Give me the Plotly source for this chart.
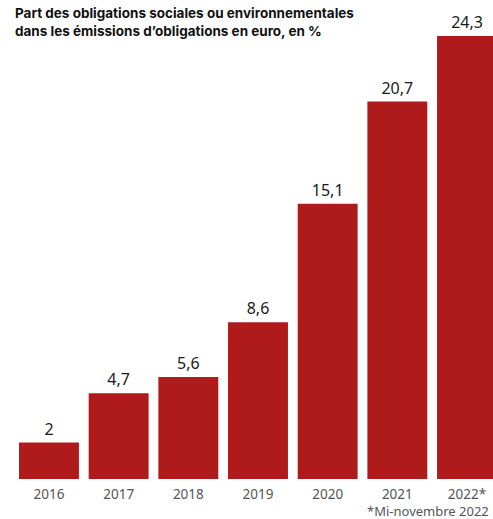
import plotly.graph_objects as go

years = ["2016", "2017", "2018", "2019", "2020", "2021", "2022*"]
values = [2, 4.7, 5.6, 8.6, 15.1, 20.7, 24.3]
labels = [f"{v:g}".replace(".", ",") for v in values]

W, H = 493, 519
PLOT_H = 479
fig = go.Figure(go.Bar(
    x=years, y=values, text=labels, textposition="outside",
    marker=dict(color="#AF1A1B", line=dict(width=0)),
    width=0.86, cliponaxis=False,
    textfont=dict(family="Noto Sans", size=16, color="#1a1a1a"),
))
fig.update_layout(
    width=W, height=H, margin=dict(l=0, r=0, t=0, b=H - PLOT_H),
    plot_bgcolor="white", paper_bgcolor="white", showlegend=False,
    xaxis=dict(range=[-0.703, 6.373], showgrid=False, showline=False, ticks="",
               tickfont=dict(family="Noto Sans", size=13.5, color="#555"), ticklabelstandoff=5),
    yaxis=dict(range=[0, 26.27], visible=False),
    annotations=[
        dict(text="<b>Part des obligations sociales ou environnementales<br>dans les émissions d’obligations en euro, en %</b>",
             x=13 / W, y=1 - 3 / PLOT_H, xref="paper", yref="paper", align="left",
             xanchor="left", yanchor="top", showarrow=False,
             font=dict(family="Inter", size=13.5, color="#111")),
        dict(text="*Mi-novembre 2022", x=(W - 2) / W, y=-32 / PLOT_H, xref="paper", yref="paper",
             xanchor="right", yanchor="middle", showarrow=False,
             font=dict(family="Noto Sans", size=13, color="#555")),
    ],
)
fig.write_html("out.html")
